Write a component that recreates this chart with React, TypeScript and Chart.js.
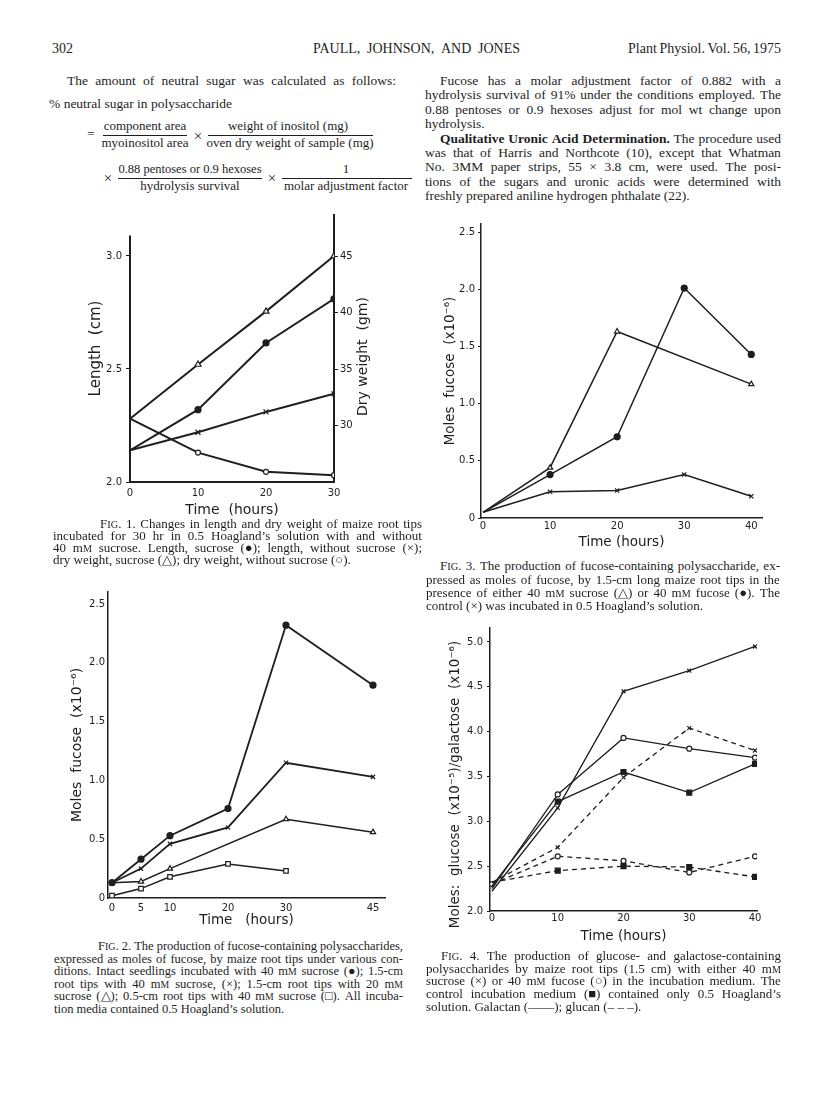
import React, { useEffect, useLayoutEffect, useRef } from "react";
import { Chart, registerables } from "chart.js";

Chart.register(...registerables);

const INK = "#1e1e1e";
const SANS = "'DejaVu Sans', 'Liberation Sans', sans-serif";
const SERIF = "'Liberation Serif', 'Times New Roman', serif";

// ---------- Fig. 1 : length (cm) and dry weight (gm) vs time ----------
const fig1Hours = [0, 10, 20, 30];
const fig1LengthSucrose = [2.14, 2.32, 2.615, 2.81];
const fig1LengthNoSucrose = [2.14, 2.22, 2.31, 2.39];
const fig1DryWeightSucrose = [30.6, 35.4, 40.1, 45.0];
const fig1DryWeightNoSucrose = [30.6, 27.6, 25.9, 25.6];
const fig1HourTicks = [0, 10, 20, 30];
const fig1LengthTicks = [2.0, 2.5, 3.0];
const fig1DryWeightTicks = [30, 35, 40, 45];
const fig1LengthAxisTop = 3.09;

// ---------- Fig. 2 : moles fucose (x10^-6) ----------
const fig2Hours = [0, 5, 10, 20, 30, 45];
const fig2Seedlings40 = [0.13, 0.33, 0.53, 0.76, 2.32, 1.81];
const fig2Tips15mm40 = [0.13, 0.25, 0.46, 0.6, 1.15, 1.03];
const fig2Tips15mm20 = [0.13, 0.14, 0.25, null, 0.67, 0.56];
const fig2Tips05mm40 = [0.02, 0.08, 0.18, 0.29, 0.23, null];
const fig2HourTicks = [0, 5, 10, 20, 30, 45];
const fig2MolesTicks = [0, 0.5, 1.0, 1.5, 2.0, 2.5];

// ---------- Fig. 3 : moles fucose (x10^-6) ----------
const fig3Hours = [0, 10, 20, 30, 40];
const fig3Sucrose = [0.05, 0.44, 1.63, null, 1.17];
const fig3Fucose = [0.05, 0.38, 0.71, 2.01, 1.43];
const fig3Control = [0.05, 0.23, 0.24, 0.38, 0.19];
const fig3HourTicks = [0, 10, 20, 30, 40];
const fig3MolesTicks = [0, 0.5, 1.0, 1.5, 2.0, 2.5];

// ---------- Fig. 4 : glucose / galactose ----------
const fig4Hours = [0, 10, 20, 30, 40];
const fig4GalactanSucrose = [2.22, 3.15, 4.45, 4.68, 4.95];
const fig4GalactanFucose = [2.25, 3.3, 3.93, 3.81, 3.71];
const fig4GalactanControl = [2.28, 3.22, 3.55, 3.32, 3.64];
const fig4GlucanSucrose = [2.32, 2.71, 3.49, 4.04, 3.79];
const fig4GlucanFucose = [2.3, 2.61, 2.56, 2.43, 2.61];
const fig4GlucanControl = [2.32, 2.45, 2.5, 2.49, 2.38];
const fig4HourTicks = [0, 10, 20, 30, 40];
const fig4MolesTicks = [2.0, 2.5, 3.0, 3.5, 4.0, 4.5, 5.0];

// ---------- chart helpers ----------
type Kind = "dot" | "x" | "tri" | "ring" | "sq" | "box";

function series(hours: number[], values: (number | null)[], kind: Kind, o: { width: number; r: number; dash?: number[]; hideFirst?: boolean }) {
  const style = kind === "dot" || kind === "ring" ? "circle" : kind === "x" ? "crossRot" : kind === "tri" ? "triangle" : "rect";
  const fill = kind === "dot" || kind === "sq" ? INK : "#ffffff";
  const r = o.r;
  return {
    data: hours.map((h, i) => ({ x: h, y: values[i] })),
    borderColor: INK,
    borderWidth: o.width,
    borderDash: o.dash || [],
    pointStyle: style,
    pointBackgroundColor: fill,
    pointBorderColor: INK,
    pointBorderWidth: 1.2,
    pointRadius: o.hideFirst ? (c: any) => (c.dataIndex === 0 ? 0 : r) : r,
    tension: 0,
    spanGaps: true,
    fill: false,
  };
}

function zeroPad(s: any) {
  s.paddingLeft = 0;
  s.paddingRight = 0;
  s.paddingTop = 0;
  s.paddingBottom = 0;
}

type XSpec = { min: number; max: number; ticks: number[]; pad: number; title: string; titleSize: number; titlePad: number };
type YSpec = {
  min: number; max: number; ticks: number[]; fmt: (v: number) => string; tickLen: number; pad: number;
  title: string; titleSize: number; titlePad: number; border: boolean; titleShown?: boolean;
};

function makeConfig(p: {
  w: number; h: number; l: number; r: number; t: number; b: number; axisWidth: number;
  x: XSpec; y: YSpec; y1?: YSpec; datasets: any[]; plugins?: any[];
}) {
  const yScale = (spec: YSpec, position: "left" | "right", width: number) => ({
    type: "linear",
    position,
    min: spec.min,
    max: spec.max,
    afterBuildTicks: (s: any) => { s.ticks = spec.ticks.map((v) => ({ value: v })); },
    afterFit: (s: any) => { s.width = width; zeroPad(s); },
    grid: { display: spec.tickLen > 0, drawOnChartArea: false, drawTicks: spec.tickLen > 0, tickLength: spec.tickLen, color: INK, lineWidth: 1 },
    border: { display: spec.border, color: INK, width: p.axisWidth },
    ticks: { color: INK, font: { family: SANS, size: 10 }, padding: spec.pad, autoSkip: false, callback: (v: any) => spec.fmt(Number(v)) },
    title: {
      display: spec.titleShown !== false,
      text: spec.title,
      color: INK,
      font: { family: SANS, size: spec.titleSize },
      padding: { top: spec.titlePad, bottom: 0 },
    },
  });
  const scales: any = {
    x: {
      type: "linear",
      position: "bottom",
      min: p.x.min,
      max: p.x.max,
      afterBuildTicks: (s: any) => { s.ticks = p.x.ticks.map((v) => ({ value: v })); },
      afterFit: (s: any) => { s.height = p.h - p.b; zeroPad(s); },
      grid: { display: false, drawTicks: false },
      border: { display: true, color: INK, width: p.axisWidth },
      ticks: { color: INK, font: { family: SANS, size: 10 }, padding: p.x.pad, maxRotation: 0, minRotation: 0, autoSkip: false, callback: (v: any) => String(v) },
      title: { display: true, text: p.x.title, color: INK, font: { family: SANS, size: p.x.titleSize }, padding: { top: 0, bottom: p.x.titlePad } },
    },
    y: yScale(p.y, "left", p.l),
  };
  if (p.y1) scales.y1 = yScale(p.y1, "right", p.w - p.r);
  return {
    type: "line",
    data: { datasets: p.datasets },
    options: {
      responsive: false,
      animation: false,
      devicePixelRatio: 1,
      layout: { padding: { top: p.t, left: 0, bottom: 0, right: p.y1 ? 0 : p.w - p.r } },
      plugins: { legend: { display: false }, tooltip: { enabled: false } },
      scales,
    },
    plugins: p.plugins || [],
  };
}

const fmt1 = (v: number) => v.toFixed(1);
const fmt0or1 = (v: number) => (v === 0 ? "0" : v.toFixed(1));

// a vertical axis title that reads upward, placed relative to its scale box
function rotatedTitle(id: string, scaleId: string, text: string, size: number, dx: number, dy: number) {
  return {
    id,
    afterDraw(chart: any) {
      const s = chart.scales[scaleId];
      const ctx = chart.ctx;
      ctx.save();
      ctx.translate(s.left + dx, (s.top + s.bottom) / 2 + dy);
      ctx.rotate(-Math.PI / 2);
      ctx.font = `${size}px ${SANS}`;
      ctx.fillStyle = INK;
      ctx.textAlign = "center";
      ctx.textBaseline = "middle";
      ctx.fillText(text, 0, 0);
      ctx.restore();
    },
  };
}

// left length axis stops below the top of the plot
const fig1LeftAxis = {
  id: "fig1LeftAxis",
  afterDraw(chart: any) {
    const s = chart.scales.y;
    const ctx = chart.ctx;
    ctx.save();
    ctx.strokeStyle = INK;
    ctx.lineWidth = 2;
    ctx.beginPath();
    ctx.moveTo(s.right, s.getPixelForValue(fig1LengthAxisTop));
    ctx.lineTo(s.right, s.getPixelForValue(s.min) + 1);
    ctx.stroke();
    ctx.restore();
  },
};

const fig1DryWeightTitle = "Dry weight  (gm)";
const fig4MolesTitle = "Moles:  glucose  (x10⁻⁵)/galactose  (x10⁻⁶)";

function fig1Config() {
  const o = { width: 2, r: 3, hideFirst: true };
  return makeConfig({
    w: 305, h: 315, l: 50, r: 254, t: 10, b: 277, axisWidth: 2,
    x: { min: 0, max: 30, ticks: fig1HourTicks, pad: 5, title: "Time  (hours)", titleSize: 14, titlePad: 1.6 },
    y: { min: 2.0, max: 3.181, ticks: fig1LengthTicks, fmt: fmt1, tickLen: 4, pad: 4, title: "Length  (cm)", titleSize: 15, titlePad: 7, border: false },
    y1: {
      min: 25, max: 48.63, ticks: fig1DryWeightTicks, fmt: (v) => String(v), tickLen: 4, pad: 2,
      title: fig1DryWeightTitle, titleSize: 14, titlePad: 13.6, border: true, titleShown: false,
    },
    datasets: [
      { ...series(fig1Hours, fig1LengthSucrose, "dot", o), yAxisID: "y" },
      { ...series(fig1Hours, fig1LengthNoSucrose, "x", { ...o, r: 3.5 }), yAxisID: "y" },
      { ...series(fig1Hours, fig1DryWeightSucrose, "tri", { ...o, r: 3.5 }), yAxisID: "y1" },
      { ...series(fig1Hours, fig1DryWeightNoSucrose, "ring", { ...o, r: 2.5 }), yAxisID: "y1" },
    ],
    plugins: [fig1LeftAxis, rotatedTitle("fig1DryTitle", "y1", fig1DryWeightTitle, 14, 29, 8)],
  });
}

function fig2Config() {
  return makeConfig({
    w: 340, h: 350, l: 53, r: 330, t: 12, b: 318, axisWidth: 1.5,
    x: { min: -0.69, max: 47.07, ticks: fig2HourTicks, pad: 4, title: "Time   (hours)", titleSize: 13.5, titlePad: 1 },
    y: { min: 0, max: 2.602, ticks: fig2MolesTicks, fmt: fmt0or1, tickLen: 0, pad: 3, title: "Moles  fucose  (x10⁻⁶)", titleSize: 14, titlePad: 14, border: true },
    datasets: [
      series(fig2Hours, fig2Seedlings40, "dot", { width: 1.8, r: 3 }),
      series(fig2Hours, fig2Tips15mm40, "x", { width: 1.8, r: 3, hideFirst: true }),
      series(fig2Hours, fig2Tips15mm20, "tri", { width: 1.5, r: 3, hideFirst: true }),
      series(fig2Hours, fig2Tips05mm40, "box", { width: 1.5, r: 3.2 }),
    ],
  });
}

function fig3Config() {
  return makeConfig({
    w: 350, h: 340, l: 56, r: 337, t: 9, b: 303, axisWidth: 1.5,
    x: { min: -0.3, max: 41.6, ticks: fig3HourTicks, pad: 2, title: "Time (hours)", titleSize: 13.5, titlePad: 4 },
    y: { min: 0, max: 2.57, ticks: fig3MolesTicks, fmt: fmt0or1, tickLen: 3, pad: 3, title: "Moles  fucose  (x10⁻⁶)", titleSize: 13.5, titlePad: 17, border: true },
    datasets: [
      series(fig3Hours, fig3Sucrose, "tri", { width: 1.5, r: 3, hideFirst: true }),
      series(fig3Hours, fig3Fucose, "dot", { width: 1.5, r: 3, hideFirst: true }),
      series(fig3Hours, fig3Control, "x", { width: 1.5, r: 3, hideFirst: true }),
    ],
  });
}

function fig4Config() {
  const solid = { width: 1.3, r: 2.8, hideFirst: true };
  const dashed = { width: 1.3, r: 2.8, dash: [5, 4], hideFirst: true };
  return makeConfig({
    w: 355, h: 370, l: 70, r: 337, t: 43, b: 326, axisWidth: 1.5,
    x: { min: -0.3, max: 40.3, ticks: fig4HourTicks, pad: 1, title: "Time (hours)", titleSize: 13.5, titlePad: 10 },
    y: {
      min: 2.0, max: 5.156, ticks: fig4MolesTicks, fmt: fmt1, tickLen: 3, pad: 4,
      title: fig4MolesTitle, titleSize: 13.5, titlePad: 26, border: true, titleShown: false,
    },
    datasets: [
      series(fig4Hours, fig4GalactanSucrose, "x", solid),
      series(fig4Hours, fig4GalactanFucose, "ring", { ...solid, r: 2.5 }),
      series(fig4Hours, fig4GalactanControl, "sq", { ...solid, r: 3.5 }),
      series(fig4Hours, fig4GlucanSucrose, "x", dashed),
      series(fig4Hours, fig4GlucanFucose, "ring", { ...dashed, r: 2.5, hideFirst: false }),
      series(fig4Hours, fig4GlucanControl, "sq", { ...dashed, r: 3.5 }),
    ],
    plugins: [rotatedTitle("fig4MolesTitle", "y", fig4MolesTitle, 13.5, 35, 15)],
  });
}

function ChartBox(props: { left: number; top: number; width: number; height: number; make: () => any }) {
  const ref = useRef<HTMLCanvasElement | null>(null);
  useEffect(() => {
    const chart = new Chart(ref.current as HTMLCanvasElement, props.make() as any);
    return () => chart.destroy();
  }, []);
  return (
    <canvas
      ref={ref}
      width={props.width}
      height={props.height}
      style={{ position: "absolute", left: props.left, top: props.top, width: props.width, height: props.height }}
    />
  );
}

// ---------- text helpers ----------
function renderWord(w: string) {
  if (w === "mM") return <>m<span style={{ fontSize: "0.78em" }}>M</span></>;
  if (w === "mM,") return <>m<span style={{ fontSize: "0.78em" }}>M</span>,</>;
  if (w === "Fig.") return <>F<span style={{ fontSize: "0.8em" }}>IG</span>.</>;
  return w;
}

function TL(props: { x: number; y: number; w?: number; size?: number; text: string; justify?: boolean; bold?: number }) {
  const size = props.size || 13;
  const words = props.text.split(" ");
  const bold = props.bold || 0;
  const ref = useRef<HTMLDivElement | null>(null);
  useLayoutEffect(() => {
    const el = ref.current;
    if (!el || !props.justify || !props.w) return;
    const total = () => Array.from(el.children).reduce((a, c) => a + (c as HTMLElement).getBoundingClientRect().width, 0);
    const minGap = size * 0.18 * (words.length - 1);
    let s = size;
    while (s > size * 0.8 && total() + minGap > props.w) {
      s -= 0.1;
      el.style.fontSize = `${s}px`;
    }
  }, []);
  const base: React.CSSProperties = {
    position: "absolute",
    left: props.x,
    top: props.y - size * 0.66,
    fontSize: size,
    lineHeight: `${Math.round(size * 1.2)}px`,
    whiteSpace: "nowrap",
  };
  if (props.justify && props.w) {
    return (
      <div ref={ref} style={{ ...base, width: props.w, display: "flex", justifyContent: "space-between" }}>
        {words.map((wd, i) => (
          <span key={i} style={i < bold ? { fontWeight: "bold" } : undefined}>{renderWord(wd)}</span>
        ))}
      </div>
    );
  }
  return (
    <div ref={ref} style={base}>
      {words.map((wd, i) => (
        <React.Fragment key={i}>
          {i > 0 ? " " : ""}
          <span style={i < bold ? { fontWeight: "bold" } : undefined}>{renderWord(wd)}</span>
        </React.Fragment>
      ))}
    </div>
  );
}

function Para(props: { x: number; indent: number; right: number; ys: number[]; lines: string[]; size: number; boldFirst?: number; boldLine?: number; ragged?: number[] }) {
  return (
    <>
      {props.lines.map((ln, i) => {
        const last = i === props.lines.length - 1 || (props.ragged || []).includes(i);
        const first = i === 0 || i === props.boldLine;
        const x = first ? props.indent : props.x;
        return (
          <TL
            key={i}
            x={x}
            y={props.ys[i]}
            w={props.right - x}
            size={props.size}
            text={ln}
            justify={!last}
            bold={i === props.boldLine ? props.boldFirst : 0}
          />
        );
      })}
    </>
  );
}

function Center(props: { cx: number; y: number; text: string; size?: number }) {
  const size = props.size || 13;
  return (
    <div
      style={{
        position: "absolute",
        left: props.cx - 150,
        width: 300,
        top: props.y - size * 0.66,
        fontSize: size,
        lineHeight: `${Math.round(size * 1.2)}px`,
        textAlign: "center",
        whiteSpace: "nowrap",
      }}
    >
      {props.text}
    </div>
  );
}

function Bar(props: { x1: number; x2: number; y: number }) {
  return <div style={{ position: "absolute", left: props.x1, top: props.y, width: props.x2 - props.x1, height: 0, borderTop: `1px solid ${INK}` }} />;
}

export default function App() {
  return (
    <div
      style={{
        position: "absolute",
        left: 0,
        top: 0,
        width: 816,
        height: 1097,
        overflow: "hidden",
        background: "#ffffff",
        color: INK,
        fontFamily: SERIF,
      }}
    >
      {/* header */}
      <TL x={52} y={49} size={14} text="302" />
      <TL x={313} y={49} w={207} size={14} justify text="PAULL, JOHNSON, AND JONES" />
      <TL x={628} y={49} w={153} size={14} justify text="Plant Physiol. Vol. 56, 1975" />

      {/* left column text and formula */}
      <TL x={67} y={82} w={329} size={13.5} justify text="The amount of neutral sugar was calculated as follows:" />
      <TL x={49} y={105} size={13.5} text="% neutral sugar in polysaccharide" />

      <Center cx={91} y={135} text="=" size={13} />
      <Center cx={145} y={127} text="component area" />
      <Bar x1={103} x2={187} y={135} />
      <Center cx={145} y={143.5} text="myoinositol area" />
      <Center cx={198} y={137} text="×" size={15} />
      <Center cx={288} y={127} text="weight of inositol (mg)" />
      <Bar x1={208} x2={373} y={135} />
      <Center cx={290} y={143.5} text="oven dry weight of sample (mg)" />

      <Center cx={108} y={179} text="×" size={15} />
      <Center cx={190} y={170} text="0.88 pentoses or 0.9 hexoses" size={12.5} />
      <Bar x1={118} x2={262} y={178} />
      <Center cx={190} y={187} text="hydrolysis survival" />
      <Center cx={272} y={179} text="×" size={15} />
      <Center cx={346} y={170} text="1" />
      <Bar x1={282} x2={412} y={178} />
      <Center cx={346} y={187} text="molar adjustment factor" />

      {/* right column text */}
      <Para
        x={425}
        indent={440}
        right={781}
        size={13.5}
        ys={[82, 96.4, 110.8, 125.2, 139.6, 154, 168.4, 182.8, 197.2]}
        boldLine={4}
        boldFirst={4}
        ragged={[3]}
        lines={[
          "Fucose has a molar adjustment factor of 0.882 with a",
          "hydrolysis survival of 91% under the conditions employed. The",
          "0.88 pentoses or 0.9 hexoses adjust for mol wt change upon",
          "hydrolysis.",
          "Qualitative Uronic Acid Determination. The procedure used",
          "was that of Harris and Northcote (10), except that Whatman",
          "No. 3MM paper strips, 55 × 3.8 cm, were used. The posi-",
          "tions of the sugars and uronic acids were determined with",
          "freshly prepared aniline hydrogen phthalate (22).",
        ]}
      />

      {/* figures */}
      <ChartBox left={80} top={205} width={305} height={315} make={fig1Config} />
      <ChartBox left={425} top={215} width={350} height={340} make={fig3Config} />
      <ChartBox left={55} top={580} width={340} height={350} make={fig2Config} />
      <ChartBox left={420} top={585} width={355} height={370} make={fig4Config} />

      {/* captions */}
      <Para
        x={53}
        indent={100}
        right={422}
        size={13}
        ys={[524.5, 536.5, 548.5, 560.5]}
        lines={[
          "Fig. 1. Changes in length and dry weight of maize root tips",
          "incubated for 30 hr in 0.5 Hoagland’s solution with and without",
          "40 mM sucrose. Length, sucrose (●); length, without sucrose (×);",
          "dry weight, sucrose (△); dry weight, without sucrose (○).",
        ]}
      />
      <Para
        x={426}
        indent={440}
        right={780}
        size={13}
        ys={[567, 580.5, 594, 607]}
        lines={[
          "Fig. 3. The production of fucose-containing polysaccharide, ex-",
          "pressed as moles of fucose, by 1.5-cm long maize root tips in the",
          "presence of either 40 mM sucrose (△) or 40 mM fucose (●). The",
          "control (×) was incubated in 0.5 Hoagland’s solution.",
        ]}
      />
      <Para
        x={54}
        indent={98}
        right={403}
        size={12.5}
        ys={[947, 960, 972.5, 985, 997.5, 1010]}
        lines={[
          "Fig. 2. The production of fucose-containing polysaccharides,",
          "expressed as moles of fucose, by maize root tips under various con-",
          "ditions. Intact seedlings incubated with 40 mM sucrose (●); 1.5-cm",
          "root tips with 40 mM sucrose, (×); 1.5-cm root tips with 20 mM",
          "sucrose (△); 0.5-cm root tips with 40 mM sucrose (□). All incuba-",
          "tion media contained 0.5 Hoagland’s solution.",
        ]}
      />
      <Para
        x={426}
        indent={441}
        right={781}
        size={13}
        ys={[957, 969.5, 982, 995, 1008]}
        lines={[
          "Fig. 4. The production of glucose- and galactose-containing",
          "polysaccharides by maize root tips (1.5 cm) with either 40 mM",
          "sucrose (×) or 40 mM fucose (○) in the incubation medium. The",
          "control incubation medium (■) contained only 0.5 Hoagland’s",
          "solution. Galactan (——); glucan (– – –).",
        ]}
      />
    </div>
  );
}
